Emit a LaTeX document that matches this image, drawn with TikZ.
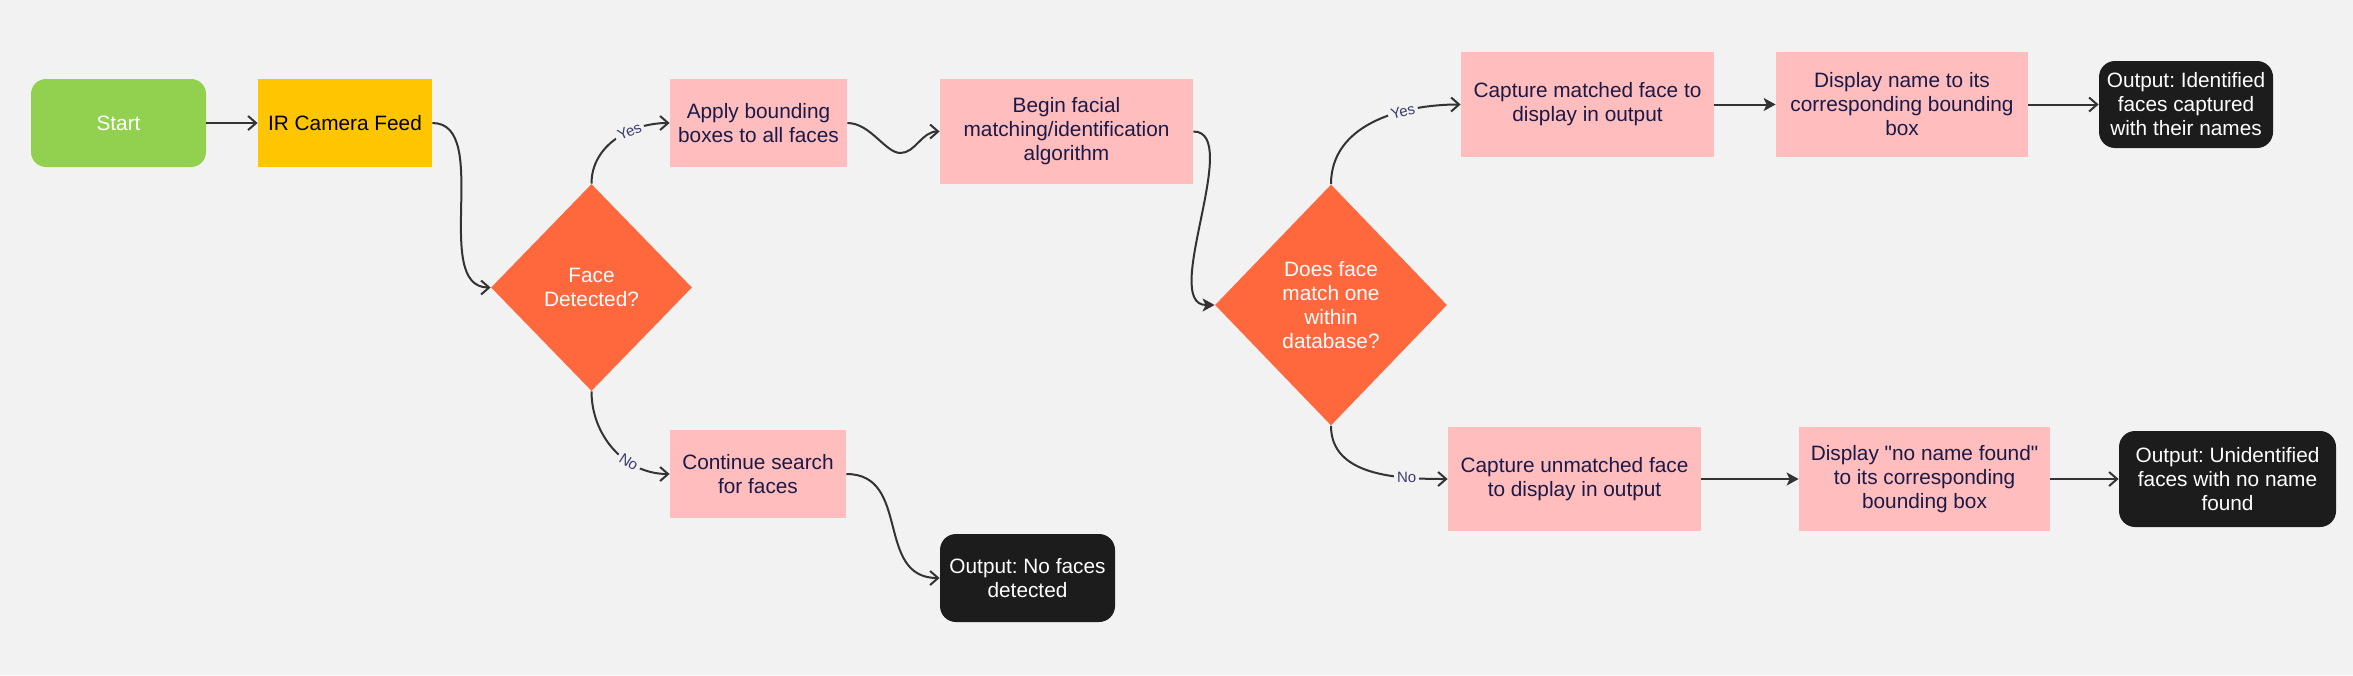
\documentclass[tikz,border=0pt]{standalone}
\usepackage{fontspec}
\setmainfont{Liberation Sans}[Ligatures=TeXOff]
\usetikzlibrary{arrows.meta,shapes.geometric}
\frenchspacing
\definecolor{cbg}{HTML}{F2F2F2}
\definecolor{cgreen}{HTML}{92D050}
\definecolor{cyellow}{HTML}{FFC600}
\definecolor{cpink}{HTML}{FFBDBD}
\definecolor{corange}{HTML}{FF673D}
\definecolor{cblack}{HTML}{1C1C1C}
\definecolor{cnavy}{HTML}{1A1A48}
\definecolor{cline}{HTML}{333333}
\definecolor{clabel}{HTML}{3D3D6E}
\tikzset{
  base/.style={inner sep=1pt, align=center, font=\fontsize{10.4pt}{12pt}\selectfont},
  startbox/.style={base, fill=cgreen, text=white, rounded corners=7.5pt},
  camerabox/.style={base, fill=cyellow, text=black},
  procbox/.style={base, fill=cpink, text=cnavy},
  decision/.style={base, shape=diamond, fill=corange, text=white, inner sep=0pt},
  outbox/.style={base, fill=cblack, text=white, rounded corners=8pt},
  conn/.style={draw=cline, line width=1pt, -{Straight Barb[length=4pt,width=7pt,line width=1pt]}},
  connf/.style={draw=cline, line width=1pt, -{Stealth[length=6pt,width=6.5pt,inset=1.5pt]}},
  lbl/.style={fill=cbg, inner sep=1.5pt, text=clabel, font=\fontsize{7.5pt}{9pt}\selectfont},
}
\begin{document}
\begin{tikzpicture}[x=0.5pt,y=-0.5pt]
\fill[cbg] (0,0) rectangle (2353,675);
\useasboundingbox (0,0) rectangle (2353,675);

\node[startbox, minimum width=87.5pt, minimum height=44pt] (start) at (118.5,123) {Start};
\node[camerabox, minimum width=87pt, minimum height=44pt] (ir) at (345,123) {IR Camera Feed};
\node[decision, minimum width=100.5pt, minimum height=103.5pt] (d1) at (591.5,287.5) {Face\\Detected?};
\node[procbox, minimum width=88.5pt, minimum height=44pt] (apply) at (758.5,123) {Apply bounding\\boxes to all faces};
\node[procbox, minimum width=88pt, minimum height=44pt] (cont) at (758,474) {Continue search\\for faces};
\node[outbox, minimum width=87.5pt, minimum height=44pt] (nof) at (1027.5,578) {Output: No faces\\detected};
\node[procbox, minimum width=126.5pt, minimum height=52.5pt] (begin) at (1066.5,131.5) {Begin facial\\matching/identification\\algorithm};
\node[decision, minimum width=116pt, minimum height=120.5pt] (d2) at (1331,305) {Does face\\match one\\within\\database?};
\node[procbox, minimum width=126.5pt, minimum height=52.5pt] (capm) at (1587.5,104.5) {Capture matched face to\\display in output};
\node[procbox, minimum width=126pt, minimum height=52.5pt] (dispn) at (1902,104.5) {Display name to its\\corresponding bounding\\box};
\node[outbox, minimum width=87pt, minimum height=43.5pt] (outid) at (2186,104.5) {Output: Identified\\faces captured\\with their names};
\node[procbox, minimum width=126.5pt, minimum height=52pt] (capu) at (1574.5,479) {Capture unmatched face\\to display in output};
\node[procbox, minimum width=125.5pt, minimum height=52pt] (dispnn) at (1924.5,479) {Display "no name found"\\to its corresponding\\bounding box};
\node[outbox, minimum width=108.5pt, minimum height=48pt] (outun) at (2227.5,479) {Output: Unidentified\\faces with no name\\found};

% connectors
\draw[conn] (start.east) -- (ir.west);
\draw[conn] (ir.east) .. controls +(60,0) and +(-60,0) .. (d1.west);
\draw[conn] (d1.north) to[out=90,in=180] node[lbl, pos=0.64, sloped] {Yes} (apply.west);
\draw[conn] (d1.south) to[out=-90,in=180] node[lbl, pos=0.66, sloped] {No} (cont.west);
\draw[conn] (apply.east) .. controls +(23,0) and +(-15,0) .. ++(53,30) .. controls +(15,0) and +(-18,0) .. (begin.west);
\draw[connf] (begin.east) .. controls +(50,0) and +(-55,0) .. (d2.west);
\draw[conn] (cont.east) .. controls +(65,0) and +(-65,0) .. (nof.west);
\draw[conn] (d2.north) to[out=90,in=180] node[lbl, pos=0.68, sloped] {Yes} (capm.west);
\draw[conn] (d2.south) to[out=-90,in=180] node[lbl, pos=0.74] {No} (capu.west);
\draw[connf] (capm.east) -- (dispn.west);
\draw[conn] (dispn.east) -- (outid.west);
\draw[connf] (capu.east) -- (dispnn.west);
\draw[conn] (dispnn.east) -- (outun.west);
\end{tikzpicture}
\end{document}
